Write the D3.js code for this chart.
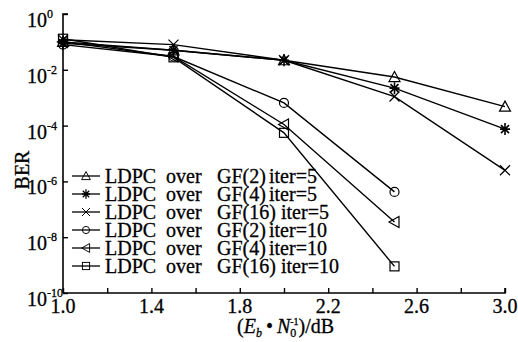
<!DOCTYPE html>
<html lang="en">
<head>
<meta charset="utf-8">
<title>BER</title>
<script src="https://d3js.org/d3.v7.min.js"></script>
<style>
  body { margin: 0; background: #fff; }
  text { font-family: 'Liberation Serif', 'Times New Roman', serif; fill: #000; stroke: #000; stroke-width: 0.3px; }
</style>
</head>
<body>
<svg id="chart" width="518" height="342"></svg>
<script>
// data
var snr = [1.0, 1.5, 2.0, 2.5, 3.0];
var gf2_iter5 = [0.10, 0.05, 0.022, 0.0055, 4.8e-4];
var gf4_iter5 = [0.09, 0.05, 0.022, 0.0022, 7.5e-5];
var gf16_iter5 = [0.12, 0.08, 0.022, 1.1e-3, 2.5e-6];
var gf2_iter10 = [0.08, 0.03, 6.5e-4, 4.2e-7];
var gf4_iter10 = [0.10, 0.03, 1.1e-4, 3.5e-8];
var gf16_iter10 = [0.13, 0.028, 5.5e-5, 9e-10];
var xTicks = [1.0, 1.4, 1.8, 2.2, 2.6, 3.0];
var yTicks = [0, -2, -4, -6, -8, -10];

var series = [
  {name: 'GF(2)', iter: 'iter=5', vals: gf2_iter5, mark: 'tri'},
  {name: 'GF(4)', iter: 'iter=5', vals: gf4_iter5, mark: 'star'},
  {name: 'GF(16)', iter: 'iter=5', vals: gf16_iter5, mark: 'cross'},
  {name: 'GF(2)', iter: 'iter=10', vals: gf2_iter10, mark: 'circle'},
  {name: 'GF(4)', iter: 'iter=10', vals: gf4_iter10, mark: 'left'},
  {name: 'GF(16)', iter: 'iter=10', vals: gf16_iter10, mark: 'square'}
];

var svg = d3.select('#chart');
var x = d3.scaleLinear().domain([1.0, 3.0]).range([63, 505]);
var y = d3.scaleLog().domain([1e-10, 1]).range([293, 14]);

// axes (ticks point inward)
var gx = svg.append('g').attr('transform', 'translate(0,293)')
    .call(d3.axisBottom(x).tickValues(d3.range(1.0, 3.01, 0.2)).tickSize(-5).tickFormat(''));
var gy = svg.append('g').attr('transform', 'translate(63,0)')
    .call(d3.axisLeft(y).tickValues(yTicks.map(function (e) { return Math.pow(10, e); })).tickSize(-5).tickFormat(''));
svg.selectAll('.domain').attr('stroke', '#000').attr('stroke-width', 1.6);
svg.selectAll('.tick line').attr('stroke', '#000').attr('stroke-width', 1.4);
gx.select('.domain').attr('d', 'M63,0H505V-5');
gy.select('.domain').attr('d', 'M0,293V14H5');

// x tick labels
svg.selectAll('.xlab').data(xTicks).enter().append('text')
    .attr('x', function (d) { return x(d); })
    .attr('y', 313)
    .attr('text-anchor', 'middle')
    .style('font-size', '20px')
    .text(function (d) { return d.toFixed(1); });

// y tick labels 10^n, top of the digits at the tick
var yl = svg.selectAll('.ylab').data(yTicks).enter().append('text')
    .attr('x', 27)
    .attr('y', function (d) { return y(Math.pow(10, d)) + 13; })
    .style('font-size', '20px');
yl.append('tspan').text('10');
yl.append('tspan').attr('dy', -9).style('font-size', '12px').text(function (d) { return d === 0 ? '0' : '-' + (-d); });

// axis titles
svg.append('text')
    .attr('transform', 'translate(29,170) rotate(-90)')
    .attr('text-anchor', 'middle')
    .style('font-size', '20px')
    .text('BER');

var xt = svg.append('text').attr('x', 237).attr('y', 333).style('font-size', '20px');
xt.append('tspan').text('(');
xt.append('tspan').style('font-style', 'italic').text('E');
xt.append('tspan').attr('dy', 4).style('font-size', '12px').style('font-style', 'italic').text('b');
xt.append('tspan').attr('dy', -4).text('\u2009\u2022\u2009');
xt.append('tspan').style('font-style', 'italic').text('N');
xt.append('tspan').attr('dy', 4).style('font-size', '12px').text('0');
xt.append('tspan').attr('dx', -6).attr('dy', -12).style('font-size', '10px').text('-1');
xt.append('tspan').attr('dy', 8).text(')/dB');

// marker shapes
function marker(g, type) {
  var s = 4.5;
  if (type === 'tri') {
    g.append('path').attr('d', 'M0,' + (-s - 1) + 'L' + (s + 1) + ',' + s + 'L' + (-s - 1) + ',' + s + 'Z');
  } else if (type === 'left') {
    g.append('path').attr('d', 'M' + (-s - 1) + ',0L' + s + ',' + (-s - 1) + 'L' + s + ',' + (s + 1) + 'Z');
  } else if (type === 'square') {
    g.append('rect').attr('x', -s).attr('y', -s).attr('width', 2 * s).attr('height', 2 * s);
  } else if (type === 'circle') {
    g.append('circle').attr('r', s);
  } else if (type === 'cross') {
    g.append('path').attr('d', 'M-5,-5L5,5M-5,5L5,-5');
  } else if (type === 'star') {
    g.append('path').attr('d', 'M0,-6V6M-5,0H5M-4,-4L4,4M-4,4L4,-4').attr('stroke-width', 1.6);
  }
  g.selectAll('*').attr('fill', 'none').attr('stroke', '#000')
      .filter(function () { return !this.getAttribute('stroke-width'); }).attr('stroke-width', 1.2);
}

var line = d3.line()
    .x(function (d, i) { return x(snr[i]); })
    .y(function (d) { return y(d); });

series.forEach(function (s) {
  svg.append('path')
      .attr('d', line(s.vals))
      .attr('fill', 'none')
      .attr('stroke', '#000')
      .attr('stroke-width', 1.4);
});
series.forEach(function (s) {
  s.vals.forEach(function (v, i) {
    var g = svg.append('g').attr('transform', 'translate(' + x(snr[i]) + ',' + y(v) + ')');
    marker(g, s.mark);
  });
});

// legend
series.forEach(function (s, i) {
  var ly = 176 + i * 18;
  svg.append('line').attr('x1', 72).attr('x2', 100).attr('y1', ly).attr('y2', ly)
      .attr('stroke', '#000').attr('stroke-width', 1.3);
  var g = svg.append('g');
  marker(g, s.mark);
  g.attr('transform', 'translate(86,' + ly + ') scale(0.8)');
  var words = [['LDPC', 105], ['over', 166], [s.name, 217], [s.iter, s.name === 'GF(16)' ? 281 : 269]];
  words.forEach(function (w) {
    svg.append('text').attr('x', w[1]).attr('y', ly + 7).style('font-size', '20px').text(w[0]);
  });
});
</script>
</body>
</html>
